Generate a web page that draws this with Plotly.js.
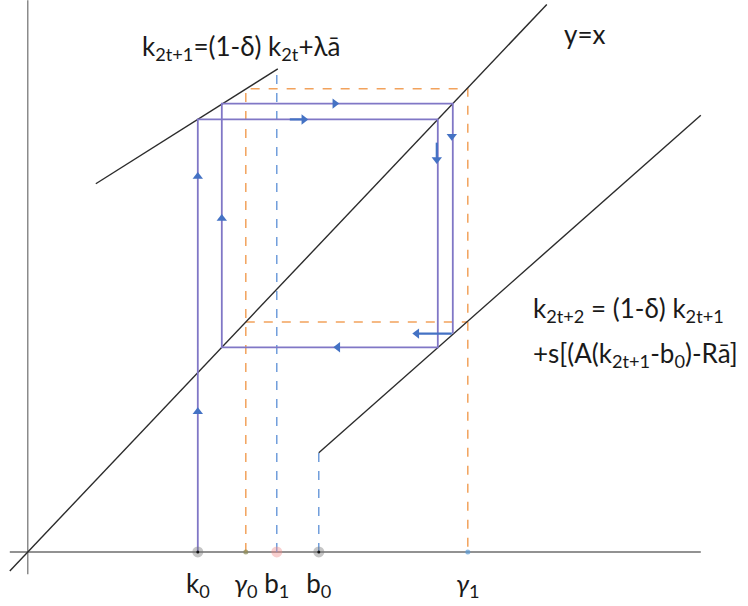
<!DOCTYPE html>
<html>
<head>
<meta charset="utf-8">
<script src="https://cdn.plot.ly/plotly-3.0.1.min.js"></script>
<style>html,body{margin:0;padding:0;background:#fff;}#chart{width:748px;height:606px;}</style>
</head>
<body>
<div id="chart"></div>
<script>
// ---- data (units: x = horizontal, y = vertical; y=x is the 45° line) ----
const k0 = 170, g0 = 218, b1 = 249, b0 = 291, g1 = 440;
const axisTickVals = [k0, g0, b1, b0, g1];
const axisTickText = ['k<sub>0</sub>', '<i>γ</i><sub>0</sub>', 'b<sub>1</sub>', 'b<sub>0</sub>', '<i>γ</i><sub>1</sub>'];

const xAxisLineX = [-18, 673], xAxisLineY = [0, 0];
const yAxisLineX = [0, 0], yAxisLineY = [-21, 523];

const diagX = [-18, 519], diagY = [-18, 519];            // y = x
const upperX = [68, 250], upperY = [349, 458];            // k2t+1 map
const lowerX = [291, 673], lowerY = [94, 414];            // k2t+2 map
const lowerStubX = [b0, b0], lowerStubY = [0, 94];        // dashed below kink
const b1LineX = [b1, b1], b1LineY = [0, 458];

const orangeX = [g0, g0, g1, g1, null, g0, g1];
const orangeY = [0, 439, 439, 0, null, 218, 218];

const cobwebX = [k0, k0, 410, 410, 194, 194, 425, 425];
const cobwebY = [0, 410, 410, 194, 194, 425, 425, 207];

const arrowSegX = [262, 276, null, 409, 409, null, 389, 424];
const arrowSegY = [410, 410, null, 388, 372, null, 207, 207];
const upArrowX = [k0, k0, 194], upArrowY = [356, 133, 316];
const rightArrowX = [307, 276], rightArrowY = [425, 410];
const downArrowX = [424, 409], downArrowY = [394, 372];
const leftArrowX = [310, 389], leftArrowY = [194, 207];

const dotX = [k0, g0, b1, b0, g1];
const dotY = [0, 0, 0, 0, 0];
const dotColor = ['rgba(120,120,120,0.6)', '#8a8a55', 'rgba(240,140,140,0.6)', 'rgba(120,120,120,0.6)', '#5b9bd5'];
const dotSize = [11, 5, 11, 11, 5];

const black = '#2b2b2b';
const purple = '#8077c6';
const blue = '#4472c4';
const orange = '#f2a25c';
const dblue = '#5b8fd6';

function line(x, y, color, width, dash) {
  return {type: 'scatter', mode: 'lines', x: x, y: y, hoverinfo: 'skip',
    line: {color: color, width: width, dash: dash || 'solid'}, showlegend: false};
}
function tri(x, y, sym) {
  return {type: 'scatter', mode: 'markers', x: x, y: y, hoverinfo: 'skip', showlegend: false,
    marker: {symbol: sym, size: 9, color: blue}};
}

const traces = [
  line(xAxisLineX, xAxisLineY, '#6e6e6e', 1.4),
  line(yAxisLineX, yAxisLineY, '#6e6e6e', 1.2),
  line(orangeX, orangeY, orange, 1.5, 'dash'),
  line(b1LineX, b1LineY, dblue, 1.3, 'dash'),
  line(lowerStubX, lowerStubY, dblue, 1.3, 'dash'),
  line(diagX, diagY, black, 1.4),
  line(upperX, upperY, black, 1.4),
  line(lowerX, lowerY, black, 1.4),
  line(cobwebX, cobwebY, purple, 1.8),
  line(arrowSegX, arrowSegY, blue, 2.2),
  tri(upArrowX, upArrowY, 'triangle-up'),
  tri(rightArrowX, rightArrowY, 'triangle-right'),
  tri(downArrowX, downArrowY, 'triangle-down'),
  tri(leftArrowX, leftArrowY, 'triangle-left'),
  {type: 'scatter', mode: 'markers', x: dotX, y: dotY, hoverinfo: 'skip', showlegend: false,
    marker: {size: dotSize, color: dotColor, line: {width: 0}}},
  {type: 'scatter', mode: 'markers', x: [k0, b0], y: [0, 0], hoverinfo: 'skip', showlegend: false,
    marker: {size: 3, color: '#111'}}
];

const textFont = {family: 'Lato, "Open Sans", sans-serif', size: 26, color: '#1a1a1a'};

const layout = {
  width: 748, height: 606,
  margin: {l: 0, r: 0, t: 0, b: 0},
  paper_bgcolor: '#fff', plot_bgcolor: '#fff',
  showlegend: false,
  xaxis: {range: [-27.8, 720.2], showgrid: false, zeroline: false, showline: false,
    anchor: 'free', position: 54 / 606, ticks: '', ticklabelstandoff: 14,
    tickvals: axisTickVals, ticktext: axisTickText,
    tickfont: {family: 'Lato, "Open Sans", sans-serif', size: 26, color: '#1a1a1a'}},
  yaxis: {range: [-51.2, 523.2], visible: false, showgrid: false, zeroline: false},
  annotations: [
    {xref: 'paper', yref: 'paper', x: 140 / 748, y: 1 - 47 / 606, xanchor: 'left', yanchor: 'middle',
      showarrow: false, text: 'k<sub>2t+1</sub>=(1-δ) k<sub>2t</sub>+λā', font: textFont},
    {xref: 'paper', yref: 'paper', x: 562 / 748, y: 1 - 34 / 606, xanchor: 'left', yanchor: 'middle',
      showarrow: false, text: 'y=x', font: {family: textFont.family, size: 26, color: '#1a1a1a'}},
    {xref: 'paper', yref: 'paper', x: 531 / 748, y: 1 - 309 / 606, xanchor: 'left', yanchor: 'middle',
      showarrow: false, text: 'k<sub>2t+2</sub> = (1-δ) k<sub>2t+1</sub>', font: textFont},
    {xref: 'paper', yref: 'paper', x: 531 / 748, y: 1 - 354 / 606, xanchor: 'left', yanchor: 'middle',
      showarrow: false, text: '+s[(A(k<sub>2t+1</sub>-b<sub>0</sub>)-Rā]', font: textFont}
  ]
};

Plotly.newPlot('chart', traces, layout, {staticPlot: true, displayModeBar: false});
</script>
</body>
</html>
